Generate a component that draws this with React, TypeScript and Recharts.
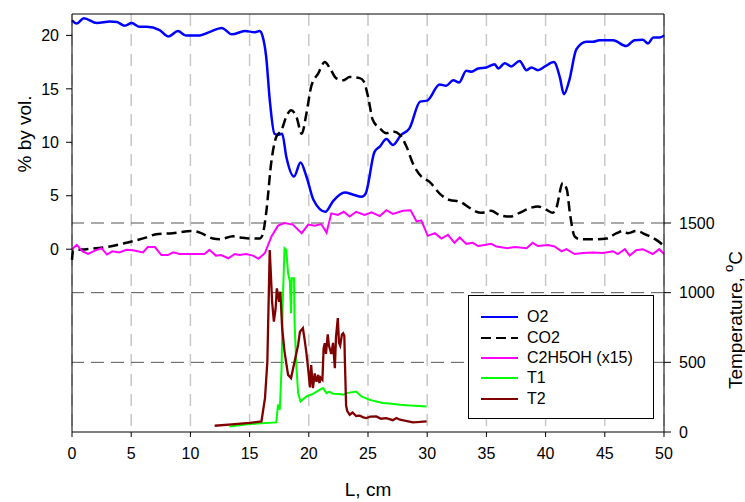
import { LineChart, Line, XAxis, YAxis, CartesianGrid, ReferenceLine, Legend } from 'recharts';

// [L cm, % by vol.]
const o2: [number, number][] = [
  [0, 21.4], [0.4, 21.1], [1.0, 21.6], [2.1, 21.15], [3.2, 21.3], [3.8, 21.25], [4.45, 20.9],
  [5.05, 21.15], [5.7, 20.8], [6.3, 20.8], [7.4, 20.5], [8.15, 19.9], [8.95, 20.4], [9.6, 20.0],
  [10.8, 20.0], [11.6, 20.3], [12.65, 20.7], [13.5, 20.1], [14.6, 20.4], [15.45, 20.3], [15.85, 20.4],
  [16.1, 19.9], [16.4, 18.0], [16.7, 14.0], [17.1, 10.8], [17.4, 10.7], [17.75, 10.8], [18.1, 8.65],
  [18.75, 6.8], [19.3, 8.1], [19.8, 6.8], [20.4, 4.6], [21.4, 3.5], [22.05, 4.5], [23.05, 5.3],
  [23.75, 5.1], [24.45, 4.9], [24.8, 5.2], [25.55, 9.1], [26.0, 9.6], [26.55, 10.3], [27.1, 9.75],
  [27.8, 10.7], [28.5, 11.3], [29.4, 13.8], [30.0, 13.9], [31.05, 15.4], [31.6, 15.3], [32.2, 15.8],
  [32.7, 15.6], [33.3, 16.7], [33.75, 16.6], [34.3, 16.9], [35.0, 17.0], [35.7, 17.3], [36.0, 16.9],
  [36.55, 17.4], [37.1, 17.1], [37.8, 17.6], [38.4, 16.75], [38.8, 17.0], [39.35, 16.75], [39.95, 17.1],
  [40.7, 17.5], [41.2, 16.1], [41.55, 14.5], [42.0, 15.8], [42.6, 18.7], [43.45, 19.4], [44.0, 19.4],
  [44.55, 19.55], [45.7, 19.55], [46.8, 19.0], [47.5, 19.55], [48.2, 19.6], [48.65, 19.25], [49.1, 19.8],
  [49.65, 19.8], [50, 20.0],
];

const co2: [number, number][] = [
  [0, -1.0], [0.1, -0.1], [1.2, 0.0], [3.2, 0.25], [4.6, 0.6], [6.3, 1.1], [7.1, 1.4], [8.5, 1.5],
  [10.2, 1.7], [10.8, 1.55], [11.9, 1.0], [12.5, 0.93], [13.6, 1.2], [14.2, 1.1], [15.0, 1.0], [15.85, 1.0],
  [16.1, 1.35], [16.4, 3.4], [16.85, 8.3], [17.25, 10.5], [17.7, 11.15], [18.1, 12.4], [18.5, 13.0],
  [18.95, 12.4], [19.4, 10.8], [19.8, 12.7], [20.2, 15.2], [20.8, 16.45], [21.35, 17.5], [21.8, 16.9],
  [22.3, 16.0], [22.9, 15.8], [23.45, 16.1], [24.3, 16.0], [24.64, 15.7], [25.0, 14.3], [25.4, 12.1],
  [26.0, 11.3], [26.55, 10.85], [27.1, 11.0], [27.7, 10.7], [28.25, 9.6], [28.8, 8.0], [29.5, 6.8],
  [30.2, 6.3], [31.05, 5.2], [31.9, 4.6], [32.75, 4.45], [33.6, 3.85], [34.15, 3.5], [34.55, 3.4],
  [35.4, 3.6], [36.1, 3.2], [37.0, 3.05], [37.8, 3.4], [38.7, 3.85], [39.35, 4.0], [40.05, 3.7],
  [40.6, 3.4], [40.9, 3.85], [41.45, 6.2], [41.8, 5.55], [42.05, 3.4], [42.45, 1.2], [42.9, 0.93],
  [44.0, 0.93], [45.15, 1.0], [46.0, 1.5], [46.55, 1.7], [46.95, 1.5], [47.65, 1.7], [48.5, 1.35],
  [49.35, 0.87], [49.9, 0.4], [50, 0.3],
];

const ethanol: [number, number][] = [
  [0, 0.0], [0.4, 0.4], [0.9, -0.2], [1.35, -0.45], [1.9, -0.15], [2.5, 0.1], [2.95, -0.5], [3.4, -0.2],
  [4.0, -0.3], [4.6, -0.05], [5.15, -0.1], [6.0, -0.3], [6.4, 0.2], [7.0, 0.2], [7.55, -0.55], [8.1, -0.55],
  [8.55, -0.3], [9.1, -0.45], [10.8, -0.45], [11.2, -0.45], [11.6, -0.05], [12.15, -0.6], [12.6, -0.55],
  [13.2, -0.85], [13.75, -0.45], [14.15, -0.55], [14.7, -0.45], [15.3, -0.6], [15.75, -0.9], [16.3, -0.35],
  [16.85, 1.2], [17.4, 2.2], [17.95, 2.45], [18.65, 2.3], [19.4, 1.5], [19.95, 2.3], [20.5, 2.2],
  [21.05, 2.35], [21.5, 1.55], [21.9, 3.35], [22.45, 3.2], [22.95, 3.5], [23.45, 3.05], [24.0, 3.5],
  [24.7, 3.2], [25.3, 3.45], [26.0, 3.1], [26.55, 3.65], [27.1, 3.3], [27.95, 3.6], [28.6, 3.65],
  [29.1, 2.6], [29.5, 2.7], [30.05, 1.25], [30.65, 1.5], [31.2, 1.0], [31.75, 1.35], [32.3, 0.6],
  [32.75, 1.1], [33.3, 0.5], [33.85, 0.6], [34.3, 0.3], [34.85, 0.4], [35.4, 0.5], [35.85, 0.25],
  [36.8, 0.1], [37.4, 0.2], [38.4, 0.1], [38.9, 0.6], [39.35, 0.3], [40.2, 0.4], [40.75, 0.25],
  [41.35, -0.2], [41.75, 0.0], [42.45, -0.45], [43.15, -0.35], [44.0, -0.3], [44.85, -0.35], [45.7, -0.2],
  [46.1, -0.45], [46.7, 0.0], [47.1, -0.6], [47.65, -0.1], [48.2, 0.0], [49.05, -0.45], [49.6, 0.0],
  [50, -0.45],
];

// [L cm, temperature °C]
const t1: [number, number][] = [
  [13.3, 40], [15.0, 57], [17.25, 69], [17.4, 196], [17.55, 160], [17.7, 458], [17.8, 935], [17.95, 1318],
  [18.1, 1306], [18.25, 1139], [18.4, 1079], [18.5, 852], [18.55, 1103], [18.75, 1103], [18.8, 781],
  [18.95, 470], [19.1, 279], [19.3, 219], [19.8, 255], [20.35, 274], [20.9, 303], [21.2, 315], [21.5, 279],
  [21.75, 290], [22.05, 274], [22.6, 272], [22.9, 267], [23.2, 279], [24.0, 291], [24.45, 255],
  [25.15, 231], [25.4, 225], [26.25, 208], [26.8, 205], [27.7, 196], [28.25, 192], [29.95, 183],
];

const t2: [number, number][] = [
  [12.05, 45], [13.5, 55], [15.0, 65], [16.0, 76], [16.3, 243], [16.5, 506], [16.7, 1306], [16.8, 1127],
  [16.9, 935], [17.05, 792], [17.2, 888], [17.3, 1031], [17.5, 935], [17.6, 1007], [17.75, 745],
  [17.95, 577], [18.25, 410], [18.5, 387], [18.8, 506], [19.1, 625], [19.25, 720], [19.5, 745],
  [19.65, 661], [19.8, 566], [19.95, 450], [20.1, 320], [20.2, 480], [20.35, 315], [20.5, 420],
  [20.65, 360], [20.8, 410], [20.9, 351], [21.0, 390], [21.15, 375], [21.25, 600], [21.35, 637],
  [21.45, 560], [21.6, 700], [21.7, 620], [21.8, 590], [21.9, 560], [22.05, 640], [22.2, 458],
  [22.3, 685], [22.45, 817], [22.55, 640], [22.65, 620], [22.8, 700], [22.9, 709], [23.0, 690],
  [23.05, 506], [23.15, 190], [23.25, 150], [23.45, 124], [23.7, 140], [24.0, 115], [24.3, 117],
  [24.6, 105], [24.85, 100], [25.2, 110], [25.7, 112], [26.1, 95], [26.55, 100], [27.1, 85], [27.4, 100],
  [27.7, 88], [28.2, 80], [28.8, 69], [29.4, 72], [29.95, 76],
];

const xTicks = [0, 5, 10, 15, 20, 25, 30, 35, 40, 45, 50];
const pctTicks = [0, 5, 10, 15, 20];
const tempTicks = [0, 500, 1000, 1500];
const tempGrid = [500, 1000, 1500];

const font = '"Liberation Sans", Arial, sans-serif';

const toRows = (pts: [number, number][]) => pts.map(([x, y]) => ({ x, y }));

const series = [
  { name: 'O2', data: o2, axis: 'left', color: '#0000ff', width: 2.5, dash: undefined, type: 'monotone' },
  { name: 'CO2', data: co2, axis: 'left', color: '#000000', width: 2.5, dash: '10 5', type: 'monotone' },
  { name: 'C2H5OH (x15)', data: ethanol, axis: 'left', color: '#ff00ff', width: 2, dash: undefined, type: 'linear' },
  { name: 'T1', data: t1, axis: 'right', color: '#00ff00', width: 2, dash: undefined, type: 'linear' },
  { name: 'T2', data: t2, axis: 'right', color: '#800000', width: 2.3, dash: undefined, type: 'linear' },
] as const;

function LegendBox() {
  return (
    <div
      style={{
        width: 186,
        height: 124,
        boxSizing: 'border-box',
        border: '1px solid #000',
        background: '#fff',
        paddingTop: 11,
        fontFamily: font,
        fontSize: 16,
        color: '#000',
      }}
    >
      {series.map((s) => (
        <div key={s.name} style={{ display: 'flex', alignItems: 'center', height: 20.4 }}>
          <svg width={58} height={20} style={{ flex: 'none' }}>
            <line x1={12} y1={10} x2={49} y2={10} stroke={s.color} strokeWidth={2} strokeDasharray={s.dash} />
          </svg>
          <span style={{ lineHeight: '20px' }}>{s.name}</span>
        </div>
      ))}
    </div>
  );
}

export default function App() {
  return (
    <div style={{ position: 'absolute', left: 0, top: 0, background: '#fff' }}>
      <LineChart width={745} height={502} margin={{ top: 14, right: 11, bottom: 20, left: 12 }}>
        <CartesianGrid
          horizontal={false}
          yAxisId="right"
          stroke="#c8c8c8"
          strokeWidth={1.5}
          strokeDasharray="12 8"
        />
        <XAxis
          dataKey="x"
          type="number"
          domain={[0, 50]}
          ticks={xTicks}
          allowDuplicatedCategory={false}
          height={50}
          stroke="#000"
          tickSize={5}
          tickMargin={11}
          tick={{ fill: '#000', fontSize: 16, fontFamily: font }}
          label={{ value: 'L, cm', position: 'insideBottom', offset: -14, fill: '#000', fontSize: 19, fontFamily: font }}
        />
        <YAxis
          yAxisId="left"
          type="number"
          domain={[-17.1, 22]}
          ticks={pctTicks}
          width={60}
          stroke="#000"
          tickSize={6}
          tickMargin={7}
          tick={{ fill: '#000', fontSize: 16, fontFamily: font }}
          label={{
            content: () => (
              <text
                x={24}
                y={134}
                transform="rotate(-90 24 134)"
                textAnchor="middle"
                dominantBaseline="central"
                fontSize={19}
                fontFamily={font}
                fill="#000"
              >
                % by vol.
              </text>
            ),
          }}
        />
        <YAxis
          yAxisId="right"
          orientation="right"
          type="number"
          domain={[0, 3000]}
          ticks={tempTicks}
          width={70}
          stroke="#000"
          tickSize={7}
          tickMargin={8}
          tick={{ fill: '#000', fontSize: 16, fontFamily: font }}
          label={{
            content: () => (
              <text
                x={735}
                y={320}
                transform="rotate(-90 735 320)"
                textAnchor="middle"
                dominantBaseline="central"
                fontSize={19}
                fontFamily={font}
                fill="#000"
              >
                Temperature, <tspan dy={-7} fontSize={13}>o</tspan>
                <tspan dy={7}>C</tspan>
              </text>
            ),
          }}
        />
        {tempGrid.map((v) => (
          <ReferenceLine key={v} yAxisId="right" y={v} stroke="#555" strokeDasharray="13 7" />
        ))}
        <ReferenceLine yAxisId="right" y={3000} stroke="#000" />
        {series.map((s) => (
          <Line
            key={s.name}
            yAxisId={s.axis}
            data={toRows(s.data as unknown as [number, number][])}
            dataKey="y"
            name={s.name}
            type={s.type}
            stroke={s.color}
            strokeWidth={s.width}
            strokeDasharray={s.dash}
            dot={false}
            activeDot={false}
            isAnimationActive={false}
          />
        ))}
        <Legend
          layout="vertical"
          align="center"
          verticalAlign="middle"
          wrapperStyle={{ left: 468, top: 295, width: 186, height: 124 }}
          content={() => <LegendBox />}
        />
      </LineChart>
    </div>
  );
}
